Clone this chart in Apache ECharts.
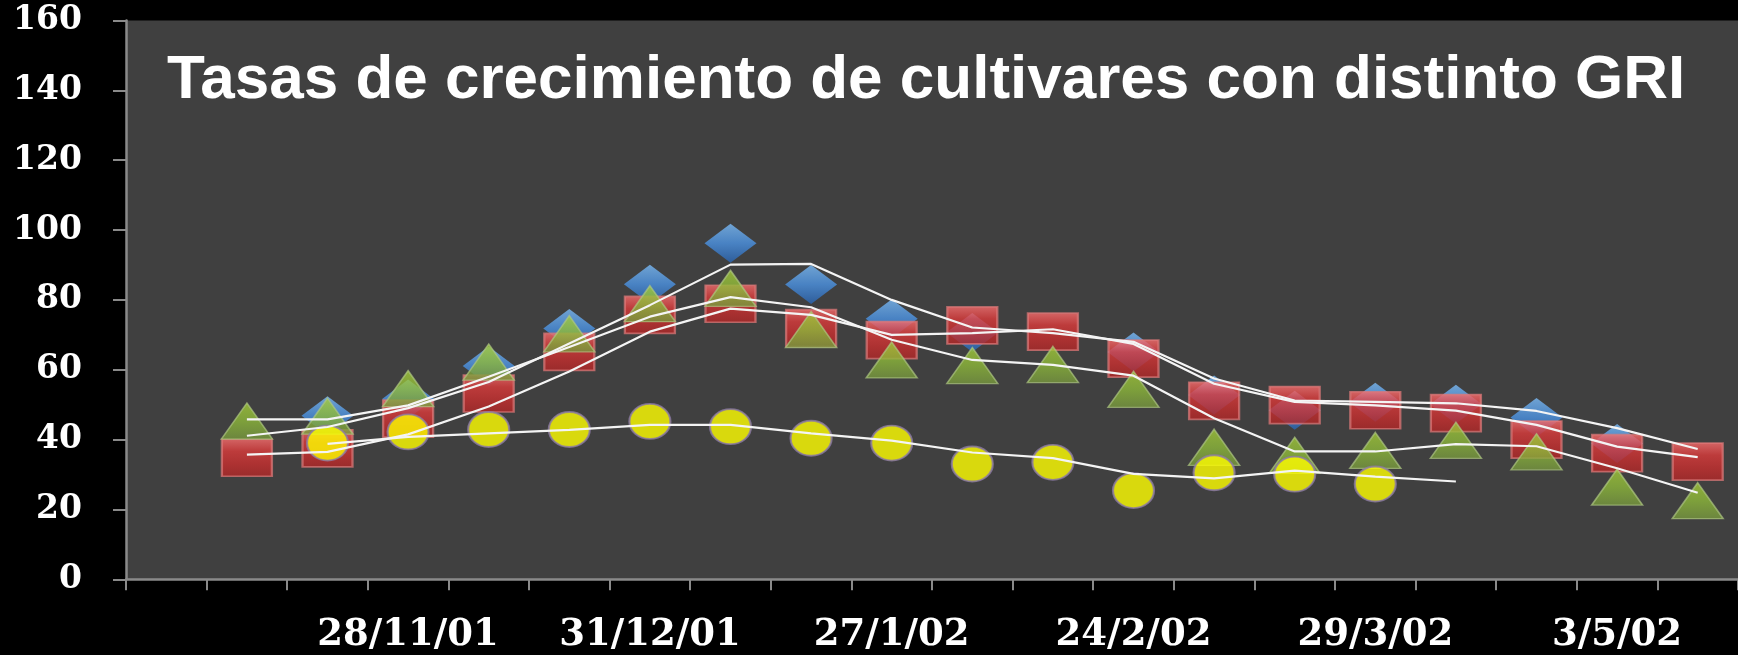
<!DOCTYPE html>
<html>
<head>
<meta charset="utf-8">
<title>Tasas de crecimiento de cultivares con distinto GRI</title>
<script src="https://cdn.jsdelivr.net/npm/echarts@6/dist/echarts.min.js"></script>
<style>
html, body {
  margin: 0;
  padding: 0;
  background: #000;
}
#main {
  width: 1738px;
  height: 655px;
}
</style>
</head>
<body>
<div id="main"></div>
<script>
// category labels (only every third sampling date is printed on the axis)
const categories = ['', '', '', '28/11/01', '', '', '31/12/01', '', '', '27/1/02', '', '', '24/2/02', '', '', '29/3/02', '', '', '3/5/02', '']

// marker series
const blueValues = [null, null, 46.8, 51.6, 61.1, 71.8, 84.5, 96.2, 84.4, 74.6, 70.7, null, 65.1, 52.8, 48.4, 50.7, 50.1, 46.3, 38.9, null]
const redValues = [null, 34.8, 37.5, 46.0, 53.2, 65.1, 75.7, 78.9, 71.9, 68.5, 72.7, 70.9, 63.2, 51.1, 49.9, 48.4, 47.6, 40.0, 36.1, 33.7]
const greenValues = [null, 45.3, 46.7, 54.6, 62.2, 70.3, 78.9, 83.3, 71.5, 62.8, 61.2, 61.5, 54.4, 37.8, 35.5, 36.9, 39.8, 36.5, 26.4, 22.5]
const yellowValues = [null, null, 39.0, 42.2, 42.9, 42.9, 45.2, 43.7, 40.4, 39.0, 33.0, 33.5, 25.4, 30.5, 30.1, 27.3, null, null, null, null]

// white trend lines
const blueTrend = [null, 41.1, 43.6, 49.0, 56.5, 67.5, 78.5, 90.1, 90.3, 80.0, 72.1, 70.5, 68.0, 57.5, 51.2, 50.8, 50.4, 48.2, 43.3, 37.3]
const redTrend = [null, 35.7, 36.5, 41.5, 49.5, 59.5, 70.9, 77.5, 75.7, 70.0, 70.5, 71.6, 67.4, 56.0, 50.8, 49.8, 48.3, 44.2, 38.0, 35.0]
const greenTrend = [null, 45.8, 45.8, 49.8, 58.0, 66.5, 75.2, 80.8, 77.9, 68.6, 62.8, 61.4, 58.3, 46.1, 36.6, 36.6, 38.7, 38.1, 31.8, 24.8]
const yellowTrend = [null, null, 38.8, 40.8, 41.8, 42.8, 44.2, 44.2, 41.8, 39.7, 36.3, 34.7, 30.2, 28.9, 31.1, 29.4, 28.0, null, null, null]

const chartDom = document.getElementById('main')
const myChart = echarts.init(chartDom)

function vgrad (stops) {
  return {
    type: 'linear',
    x: 0,
    y: 0,
    x2: 0,
    y2: 1,
    colorStops: stops.map(function (c, i) {
      return { offset: i / (stops.length - 1), color: c }
    })
  }
}

function trend (name, data) {
  return {
    name: name,
    type: 'line',
    data: data,
    z: 10,
    symbol: 'none',
    silent: true,
    lineStyle: { color: '#f4f4f4', width: 2.2 }
  }
}

const option = {
  backgroundColor: '#000',
  animation: false,
  title: {
    text: 'Tasas de crecimiento de cultivares con distinto GRI',
    left: 162,
    top: 45,
    textStyle: {
      color: '#fff',
      fontFamily: 'Liberation Sans',
      fontWeight: 'bold',
      fontSize: 62
    }
  },
  grid: {
    left: 126,
    right: 0,
    top: 20.5,
    bottom: 75.7,
    show: true,
    backgroundColor: '#404040',
    borderWidth: 0
  },
  xAxis: {
    type: 'category',
    data: categories,
    boundaryGap: true,
    axisLine: { lineStyle: { color: '#8a8a8a', width: 2.5 } },
    axisTick: { show: true, interval: 0, length: 11, lineStyle: { color: '#8a8a8a', width: 2 } },
    axisLabel: {
      interval: 0,
      margin: 38,
      color: '#fff',
      fontFamily: 'DejaVu Serif',
      fontWeight: 'bold',
      fontSize: 37
    },
    splitLine: { show: false }
  },
  yAxis: {
    type: 'value',
    min: 0,
    max: 160,
    interval: 20,
    axisLine: { show: true, lineStyle: { color: '#8a8a8a', width: 2.5 } },
    axisTick: { show: true, length: 13, lineStyle: { color: '#8a8a8a', width: 2 } },
    axisLabel: {
      margin: 44,
      color: '#fff',
      fontFamily: 'DejaVu Serif',
      fontWeight: 'bold',
      fontSize: 33
    },
    splitLine: { show: false }
  },
  series: [
    {
      name: 'Cultivar 1',
      type: 'scatter',
      data: blueValues,
      symbol: 'diamond',
      symbolSize: [52, 39],
      itemStyle: { color: vgrad(['#7cbcf8', '#4b93e4', '#2a64b0']) }
    },
    {
      name: 'Cultivar 2',
      type: 'scatter',
      data: redValues,
      symbol: 'rect',
      symbolSize: [50, 37],
      itemStyle: {
        color: vgrad(['#fa7070', '#dc3a3a', '#c82e2e', '#b02626']),
        borderColor: 'rgba(220,120,120,0.9)',
        borderWidth: 2
      }
    },
    {
      name: 'Cultivar 3',
      type: 'scatter',
      data: greenValues,
      symbol: 'triangle',
      symbolSize: [51, 36],
      itemStyle: {
        color: vgrad(['#a4cc38', '#8db83a', '#76963e']),
        borderColor: 'rgba(175,200,130,0.85)',
        borderWidth: 1.5
      }
    },
    {
      name: 'Cultivar 4',
      type: 'scatter',
      data: yellowValues,
      symbol: 'circle',
      symbolSize: [41, 35],
      itemStyle: {
        color: '#ffff00',
        borderColor: '#8c7aa6',
        borderWidth: 2
      }
    },
    trend('Tendencia 1', blueTrend),
    trend('Tendencia 2', redTrend),
    trend('Tendencia 3', greenTrend),
    trend('Tendencia 4', yellowTrend)
  ]
}

myChart.setOption(option)
</script>
</body>
</html>
